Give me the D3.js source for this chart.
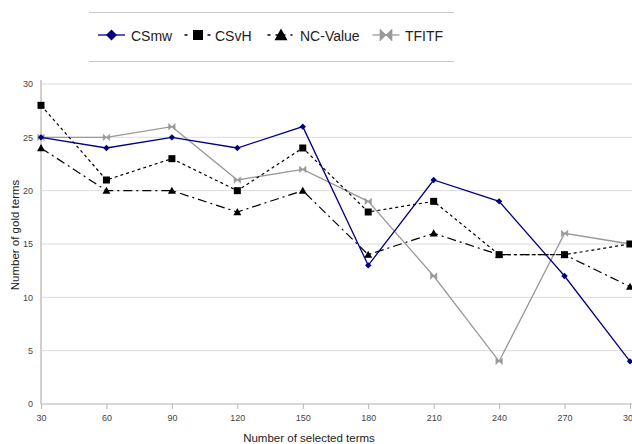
<!DOCTYPE html>
<html><head><meta charset="utf-8">
<script src="https://cdn.jsdelivr.net/npm/d3@7"></script>
<style>body{margin:0;background:#fff;}svg{display:block;font-family:"Liberation Sans",Arial,sans-serif;}</style>
</head><body>
<svg id="c" width="632" height="444"></svg>
<script>
const categories = [30,60,90,120,150,180,210,240,270,300];
const CSmw = [25,24,25,24,26,13,21,19,12,4];
const CSvH = [28,21,23,20,24,18,19,14,14,15];
const NCValue = [24,20,20,18,20,14,16,14,14,11];
const TFITF = [25,25,26,21,22,19,12,4,16,15];
const yTicks = [0,5,10,15,20,25,30];
const seriesNames = ["CSmw","CSvH","NC-Value","TFITF"];

const svg = d3.select("#c");
const x = d3.scaleLinear().domain([30,300]).range([41,630]);
const y = d3.scaleLinear().domain([0,30]).range([404,84]);

// gridlines
svg.append("g").selectAll("line").data(yTicks.filter(d=>d>0)).join("line")
  .attr("x1",41).attr("x2",632).attr("y1",d=>y(d)).attr("y2",d=>y(d))
  .attr("stroke","#dcdcdc").attr("stroke-width",1);

// x axis
const xAxis = d3.axisBottom(x).tickValues(categories).tickSize(5).tickPadding(6);
const gx = svg.append("g").attr("transform","translate(0,404)").call(xAxis);
gx.select(".domain").attr("stroke","#b3b3b3").attr("d","M41,0H632");
gx.selectAll(".tick line").attr("stroke","#b3b3b3");
gx.selectAll("text").attr("fill","#444").attr("font-size",9).attr("font-family","Liberation Sans, Arial, sans-serif");

// y axis
const yAxis = d3.axisLeft(y).tickValues(yTicks).tickSize(0).tickPadding(8);
const gy = svg.append("g").attr("transform","translate(41,0)").call(yAxis);
gy.select(".domain").attr("stroke","#d0d0d0").attr("stroke-width",2).attr("d","M0,80V404");
gy.selectAll("text").attr("fill","#444").attr("font-size",9).attr("font-family","Liberation Sans, Arial, sans-serif");

// axis titles
svg.append("text").attr("x",309).attr("y",442).attr("text-anchor","middle")
  .attr("font-size",11.5).attr("fill","#222").text("Number of selected terms");
svg.append("text").attr("transform","translate(19,235) rotate(-90)").attr("text-anchor","middle")
  .attr("font-size",11.5).attr("fill","#222").text("Number of gold terms");

// marker shapes
function marker(g, type, s, color){
  if(type==="diamond"){
    g.append("path").attr("d",`M0,${-s}L${s},0L0,${s}L${-s},0Z`).attr("fill",color);
  } else if(type==="square"){
    g.append("rect").attr("x",-s).attr("y",-s).attr("width",2*s).attr("height",2*s).attr("fill",color);
  } else if(type==="triangle"){
    g.append("path").attr("d",`M0,${-s}L${s},${s*0.8}L${-s},${s*0.8}Z`).attr("fill",color);
  } else if(type==="bowtie"){
    g.append("path").attr("d",`M${-s},${-s}L0,0L${-s},${s}Z M${s},${-s}L0,0L${s},${s}Z`).attr("fill",color).attr("stroke",color).attr("stroke-width",0.6);
  }
}

const series = [
  {name:"CSmw", vals:CSmw, color:"#000080", dash:null, width:1.3, m:"diamond", ms:3.2, lms:5.5},
  {name:"CSvH", vals:CSvH, color:"#000000", dash:"3,3", width:1.2, m:"square", ms:3.5, lms:5},
  {name:"NC-Value", vals:NCValue, color:"#000000", dash:"9,4,2,4", width:1.2, m:"triangle", ms:4, lms:6.5},
  {name:"TFITF", vals:TFITF, color:"#999999", dash:null, width:1.3, m:"bowtie", ms:3.2, lms:6}
];
const drawOrder = [series[3], series[2], series[1], series[0]];
const line = d3.line().x((d,i)=>x(categories[i])).y(d=>y(d));
drawOrder.forEach(s=>{
  svg.append("path").datum(s.vals).attr("d",line).attr("fill","none")
    .attr("stroke",s.color).attr("stroke-width",s.width)
    .attr("stroke-dasharray",s.dash);
  s.vals.forEach((v,i)=>{
    const g = svg.append("g").attr("transform",`translate(${x(categories[i])},${y(v)})`);
    marker(g,s.m,s.ms,s.color);
  });
});

// legend
svg.append("line").attr("x1",89).attr("x2",454).attr("y1",12.5).attr("y2",12.5).attr("stroke","#c8c8c8");
svg.append("line").attr("x1",89).attr("x2",454).attr("y1",61.5).attr("y2",61.5).attr("stroke","#c8c8c8");
const legX = [111.5,198,281,386];
const legTX = [131,215,300,405];
const legDash = [null,"3,20,3","3,5,10,5,2",null];
series.forEach((s,i)=>{
  const cy = 35;
  svg.append("line").attr("x1",legX[i]-13.5).attr("x2",legX[i]+13.5).attr("y1",cy).attr("y2",cy)
    .attr("stroke",s.color).attr("stroke-width",1.3).attr("stroke-dasharray",legDash[i]);
  const g = svg.append("g").attr("transform",`translate(${legX[i]},${cy})`);
  marker(g,s.m,s.lms,s.color);
  svg.append("text").attr("x",legTX[i]).attr("y",cy+5.5).attr("font-size",14).attr("fill","#222").text(s.name);
});
</script>
</body></html>
